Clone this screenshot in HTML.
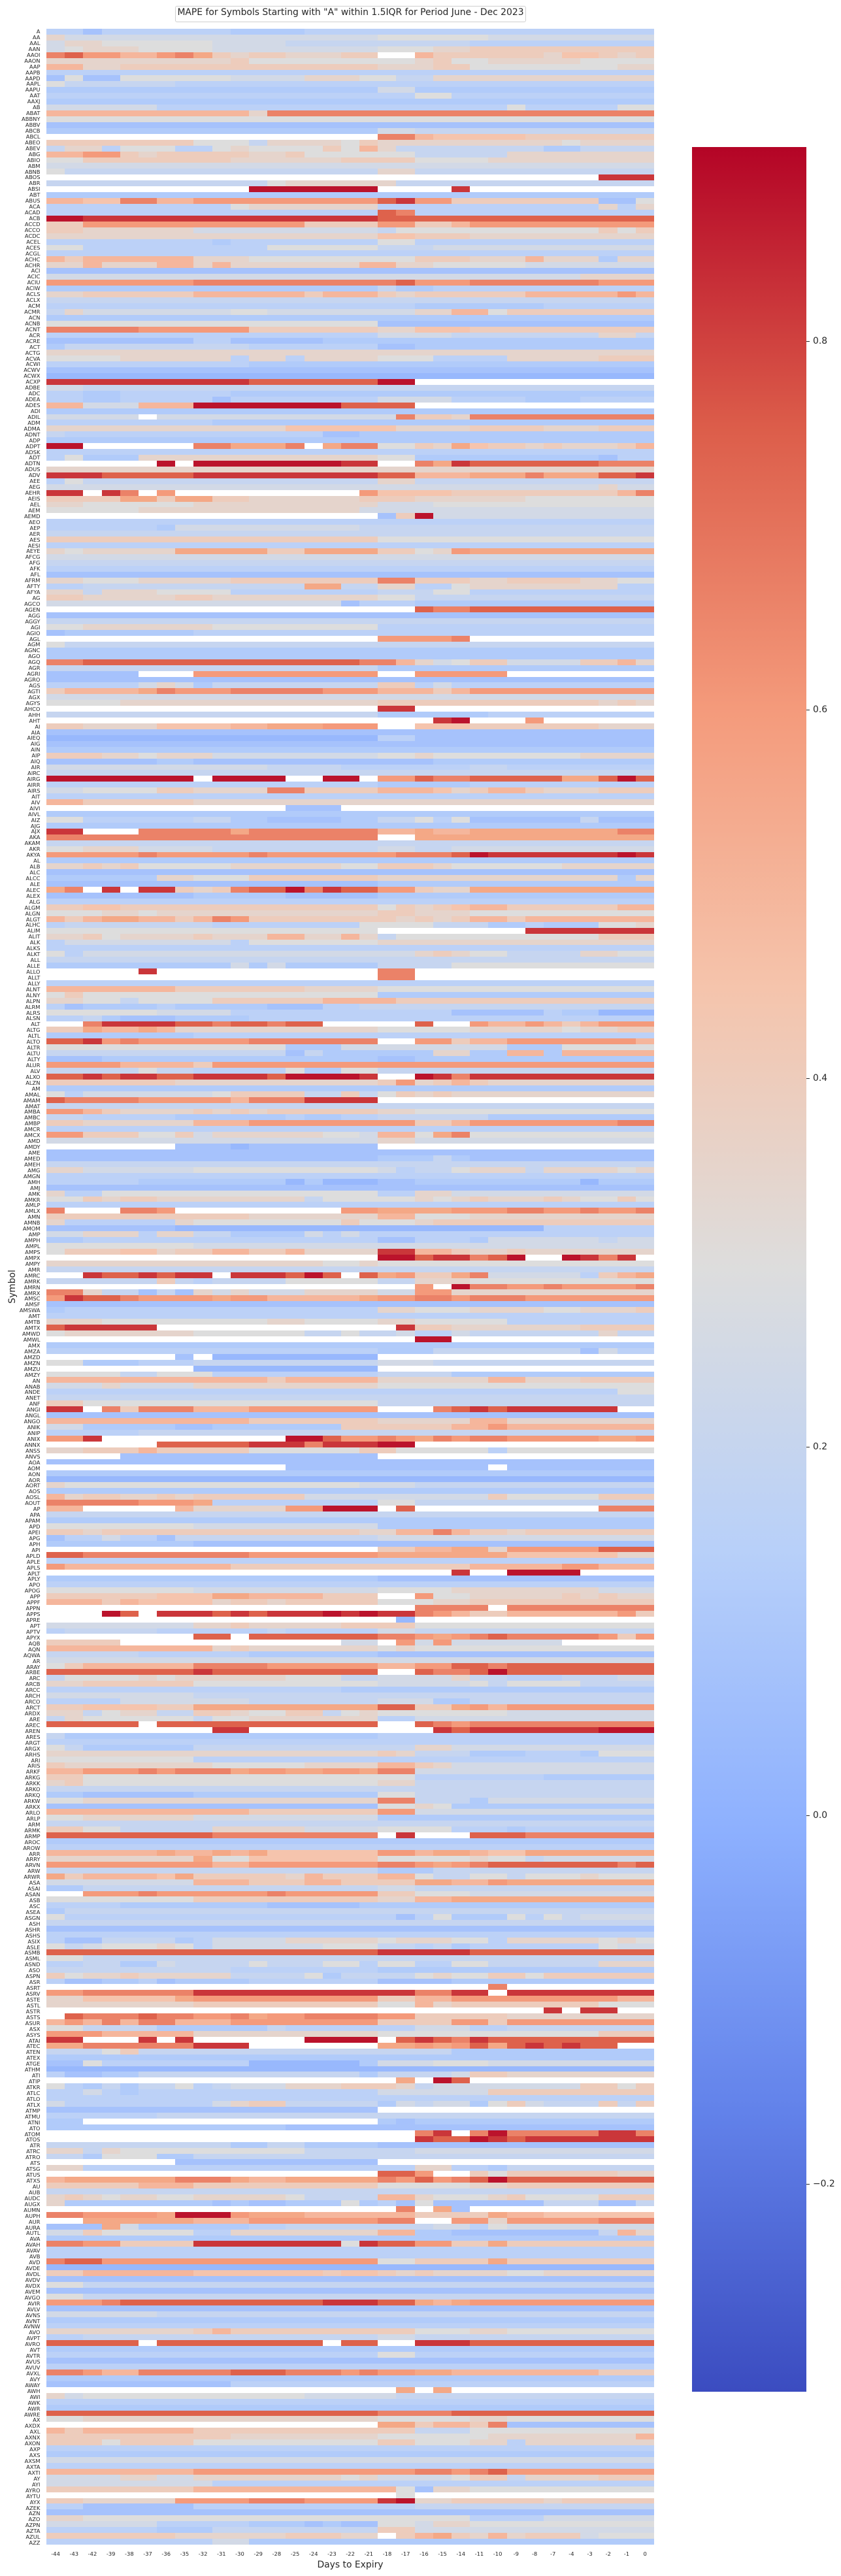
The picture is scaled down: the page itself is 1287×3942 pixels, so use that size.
<!DOCTYPE html>
<html><head><meta charset="utf-8">
<style>
html,body{margin:0;padding:0;background:#fff;}
body{width:1287px;height:3942px;position:relative;overflow:hidden;font-family:"DejaVu Sans","Liberation Sans",sans-serif;color:#262626;}
#title{position:absolute;left:268px;top:9px;width:537px;height:25px;box-sizing:border-box;border:1px solid #cfcfcf;border-radius:3px;background:#fff;text-align:center;font-size:13.9px;line-height:19px;white-space:nowrap;}
#hm{position:absolute;left:71px;top:44px;width:930px;height:3850px;background:#cdd6ea;}
#hm svg{display:block;}
#yl{position:absolute;left:0;top:44px;width:61.5px;text-align:right;font-size:8.33px;line-height:8.9327px;white-space:pre;}
#xl{position:absolute;left:71px;top:3903px;width:930px;height:10px;display:flex;font-size:8.33px;line-height:10px;}
#xl span{flex:1;text-align:center;white-space:nowrap;}
#xt{position:absolute;left:71px;top:3916px;width:930px;text-align:center;font-size:13.9px;line-height:18px;}
#yt{position:absolute;left:19px;top:1969px;transform:translate(-50%,-50%) rotate(-90deg);font-size:13.9px;line-height:16px;white-space:nowrap;}
#cb{position:absolute;left:1059px;top:225px;width:175px;height:3435px;background:linear-gradient(to top,#3b4cc0 0%,#6282ea 12.5%,#8db0fe 25%,#b8d0f9 37.5%,#dddddd 50%,#f5c4ac 62.5%,#f49a7b 75%,#dc5d4a 87.5%,#b40426 100%);}
.tk{position:absolute;left:1234px;width:5px;height:1px;background:#262626;}
.tl{position:absolute;left:1244px;font-size:13.9px;line-height:16px;white-space:nowrap;}
</style></head><body>
<div id="title">MAPE for Symbols Starting with "A" within 1.5IQR for Period June - Dec 2023</div>
<div id="hm"></div>
<div id="yl">A
AA
AAL
AAN
AAOI
AAON
AAP
AAPB
AAPD
AAPL
AAPU
AAT
AAXJ
AB
ABAT
ABBNY
ABBV
ABCB
ABCL
ABEO
ABEV
ABG
ABIO
ABM
ABNB
ABOS
ABR
ABSI
ABT
ABUS
ACA
ACAD
ACB
ACCD
ACCO
ACDC
ACEL
ACES
ACGL
ACHC
ACHR
ACI
ACIC
ACIU
ACIW
ACLS
ACLX
ACM
ACMR
ACN
ACNB
ACNT
ACR
ACRE
ACT
ACTG
ACVA
ACWI
ACWV
ACWX
ACXP
ADBE
ADC
ADEA
ADES
ADI
ADIL
ADM
ADMA
ADNT
ADP
ADPT
ADSK
ADT
ADTN
ADUS
ADV
AEE
AEG
AEHR
AEIS
AEL
AEM
AEMD
AEO
AEP
AER
AES
AESI
AEYE
AFCG
AFG
AFK
AFL
AFRM
AFTY
AFYA
AG
AGCO
AGEN
AGG
AGGY
AGI
AGIO
AGL
AGM
AGNC
AGO
AGQ
AGR
AGRI
AGRO
AGS
AGTI
AGX
AGYS
AHCO
AHH
AHT
AI
AIA
AIEQ
AIG
AIN
AIP
AIQ
AIR
AIRC
AIRG
AIRR
AIRS
AIT
AIV
AIVI
AIVL
AIZ
AJG
AJX
AKA
AKAM
AKR
AKYA
AL
ALB
ALC
ALCC
ALE
ALEC
ALEX
ALG
ALGM
ALGN
ALGT
ALHC
ALIM
ALIT
ALK
ALKS
ALKT
ALL
ALLE
ALLO
ALLT
ALLY
ALNT
ALNY
ALPN
ALRM
ALRS
ALSN
ALT
ALTG
ALTL
ALTO
ALTR
ALTU
ALTY
ALUR
ALV
ALXO
ALZN
AM
AMAL
AMAM
AMAT
AMBA
AMBC
AMBP
AMCR
AMCX
AMD
AMDY
AME
AMED
AMEH
AMG
AMGN
AMH
AMJ
AMK
AMKR
AMLP
AMLX
AMN
AMNB
AMOM
AMP
AMPH
AMPL
AMPS
AMPX
AMPY
AMR
AMRC
AMRK
AMRN
AMRX
AMSC
AMSF
AMSWA
AMT
AMTB
AMTX
AMWD
AMWL
AMX
AMZA
AMZD
AMZN
AMZU
AMZY
AN
ANAB
ANDE
ANET
ANF
ANGI
ANGL
ANGO
ANIK
ANIP
ANIX
ANNX
ANSS
ANVS
AOA
AOM
AON
AOR
AORT
AOS
AOSL
AOUT
AP
APA
APAM
APD
APEI
APG
APH
API
APLD
APLE
APLS
APLT
APLY
APO
APOG
APP
APPF
APPN
APPS
APRE
APT
APTV
APYX
AQB
AQN
AQWA
AR
ARAY
ARBE
ARC
ARCB
ARCC
ARCH
ARCO
ARCT
ARDX
ARE
AREC
AREN
ARES
ARGT
ARGX
ARHS
ARI
ARIS
ARKF
ARKG
ARKK
ARKO
ARKQ
ARKW
ARKX
ARLO
ARLP
ARM
ARMK
ARMP
AROC
AROW
ARR
ARRY
ARVN
ARW
ARWR
ASA
ASAI
ASAN
ASB
ASC
ASEA
ASGN
ASH
ASHR
ASHS
ASIX
ASLE
ASMB
ASML
ASND
ASO
ASPN
ASR
ASRT
ASRV
ASTE
ASTL
ASTR
ASTS
ASUR
ASX
ASYS
ATAI
ATEC
ATEN
ATEX
ATGE
ATHM
ATI
ATIP
ATKR
ATLC
ATLO
ATLX
ATMP
ATMU
ATNI
ATO
ATOM
ATOS
ATR
ATRC
ATRO
ATS
ATSG
ATUS
ATXS
AU
AUB
AUDC
AUGX
AUMN
AUPH
AUR
AURA
AUTL
AVA
AVAH
AVAV
AVB
AVD
AVDE
AVDL
AVDV
AVDX
AVEM
AVGO
AVIR
AVLV
AVNS
AVNT
AVNW
AVO
AVPT
AVRO
AVT
AVTR
AVUS
AVUV
AVXL
AVY
AWAY
AWH
AWI
AWK
AWR
AWRE
AX
AXDX
AXL
AXNX
AXON
AXP
AXS
AXSM
AXTA
AXTI
AY
AYI
AYRO
AYTU
AYX
AZEK
AZN
AZO
AZPN
AZTA
AZUL
AZZ</div>
<div id="xl"><span>-44</span><span>-43</span><span>-42</span><span>-39</span><span>-38</span><span>-37</span><span>-36</span><span>-35</span><span>-32</span><span>-31</span><span>-30</span><span>-29</span><span>-28</span><span>-25</span><span>-24</span><span>-23</span><span>-22</span><span>-21</span><span>-18</span><span>-17</span><span>-16</span><span>-15</span><span>-14</span><span>-11</span><span>-10</span><span>-9</span><span>-8</span><span>-7</span><span>-4</span><span>-3</span><span>-2</span><span>-1</span><span>0</span></div>
<div id="xt">Days to Expiry</div>
<div id="yt">Symbol</div>
<div id="cb"></div>
<div class="tk" style="top:522px"></div><div class="tl" style="top:514px">0.8</div>
<div class="tk" style="top:1086px"></div><div class="tl" style="top:1078px">0.6</div>
<div class="tk" style="top:1650px"></div><div class="tl" style="top:1642px">0.4</div>
<div class="tk" style="top:2214px"></div><div class="tl" style="top:2206px">0.2</div>
<div class="tk" style="top:2778px"></div><div class="tl" style="top:2770px">0.0</div>
<div class="tk" style="top:3342px"></div><div class="tl" style="top:3334px">−0.2</div>
<script>
(function(){
var C={a:'#81a3f8',b:'#98b8fd',c:'#a6c2fc',d:'#b1cbfa',e:'#bcd1f7',f:'#c6d5f0',g:'#d2d9e6',h:'#dddddd',i:'#e5d4cc',j:'#edccbc',k:'#f5c4ad',l:'#f5b69c',m:'#f4a886',n:'#f49a7b',o:'#eb8268',p:'#de624c',q:'#ca363a',r:'#bb132c'};
var S=`
e2c1e7d4e19 i1g17h6g9 g1i2h6g4f10e10 g1h1i3h4g9h3i2j10 o1p1n2l2n1o1m1j1i1j2i3j2_2l1j2j4i1k2j1i1j1 i10j1h9i1j1h2i5h4 l2i2j14i3j2h8i2 e c1h1c2h6g4i3h2f2i12 h1f6e26
d18g2d13 e20h2e11 d g6e19h1e5h2 l11i1o21 h c d18g2f13 _18o2l1k5j7 j8h3f1i4h1j1i10h1i4
f1i2e1h3e2h1i1h4j1h1l1i1f8d2f4 l2n2j1i1j5i2j1h6f5i8 h2j8i6j4h4i9 g h1f17i2f13 _30q3 f12h1i6f14 _11r7_4q1_10 d l2k2o2l2n10p1q1n2j8c2h1
e10h1i7e12i1e1i1 e18p1o1e13 r2q16p15 j2n12j4n2j2l1n10 j2i6g10f1h11j1h1j1 i18k2j3i10 e9d1e8h2e13 h2e10h6f3g12 e l1j1l6i3h9j3i3l1i3d1i2
i2l1i3l2i1l1i7l2i2h5g7 c g29i4 n8o10o1p1n3o7n3 d18f1d2e12 i2j6l6j1l3j1i1j6l5n1l1 f e20d7e6 f1i1g8h2g8i2l2h1j8 d
h18c15 o5n6j7i2k3j10 e18g4f8i2f1 c8e2c5d18 d1f10e7c2d13 i h4i6e1i2e1i4h3e4i5j3 e11d22 c b
q11p7r2_13 g2f31 e2d2e6d23 e2d2e5c1e8g4e4d3e4 l2g3l3r8p4_13 d g5_1g13o1j2i1o10 e9d24 i13k6i4j4i3j3 f1e14c2d16
d r2_6o2m3o1_1m1o2h2j1i1m1k1j2i1j1i3j1l1 e e1h1d3i13h2d10c1e2 _6r1_1r8q2_2o1m1q1p7o3 i q3p5q10p2l3m3o1m3p2q1 e1h1f16i2f13 g30i1g2 q2_1q1o1_1n1_10n1k4j1j8l1o1
j4m2j1m2j2i6j3i6h7 i2h6i10g3h12 h5i12g16 _18c1j1r1g12 e e6d1g10f16 f j18h15 e i1h1i5m5j2m4j2h1i1n1m10
g f e c i2h3i5j8o2j3i2j4i2h2 e2f12m2f2i2e2h1i8e2 i2f1i3h4e8f3h2e10 j2i5j2i9h2f13 g16c1e3d13 _20p1o2p10
c f h2i7h9e15 c1d7e25 _18n4o1_10 h1f32 d d o2p15o2l1i1g1h1j2g4j2l1i1 f18d15
c5_3n10_2n5_8 c e5g1i1g1d1f9j2e1g1e11 j1l4m1o1n3o5n1n2l2l1j1l1n10 g h4i14j12i1j1i1 _18q2_13 f18d6e9 _21q1r1_3n1_6 j2i4k4l2m3n3_2k3j7i3
c b18e2c13 c d j3i2h1i3g9h2i1h8i4 c6d2c13d12 g12f4e7f2e8 f r8_1r4_2r2_1n2p1o2p5m2p1r1p1 e18d5e10
g2h4j2i4o2j4l3k1i1j1l2j1i3j3 e l2j6i25 _13c3_17 d h2e6f2d2c4d2f2h1e1h1c6f1c3 d q2_3o5m1o7l2m1l2m8o2 o18_2m13 f
h2i3g4f9g2f2g11 n5o1n5o1n7o1o2p1r1q7r1q1 d i2j1i1j1h5i6h2j3i1h6i5 c d6i2h3j7i13d1i1 c18d15 m1o1_1q1_1q2j1i1j1o1p2r1o1q1p2n2j1i2m10 c8d5c5d15 e
j2k2j14h1j1i1j1k1l2j6l2 h3i2h1i12j2i3h10 l1j1l1m2l2j1l1o1n1j7j1i1j1i1j1l2j1l7 e1f8e8h4f3d2e1d3h2i1 h18_8q7 i2j1h1i4j1i3l2i2l1i1f1h11j3 e1g9e1h7i15 e h1e1g18i1j1i1h2f4i2h2 f
d10g1d1g1d5f4h11 _5q1_12o2_13 _18o2_13 e l7j7i4h15 h1j1h16d15 i2h2f1h4j6l4j14 e1c1d4e1d5c3e2f16 h6g4e12c5e1d2b3 e2f1d1c3d4e22
_2o1q4p2o1p2o1p2_5p1_2n1l2n1l1j1l1n3 j2m1l2m1l1i11h5i5h1i2j2 d8e25 p2q1n1o1n6o7_2n2j1l2n7l1 h13d3g9d3h5 f13c1f1d6i2d2l2d1l5 c3d15c2d13 n4l4j1n24 f5h1f2e5h1d2h2f15 p2q1p1q2p2q4p1r4q1_2r1q1o1q10
j7i11j1n1i1j1l1j1i9 d h1e1g7h1j4f2j1f1h1j1i1j1i11 p1o4n5l1o3q4_15 f n2l1j1i4j1i1j1i1j6i2h13 f2e5d6e1d2e2f6d9 j2i6l3n7n2j2l1n8o2 e n2j3h2j1g1i6h2g1l2h1m1o1h10
g18i2g13 _7c3b1c7_15 c c18d3f1d1c10 f i2g6h10g1e1f2h1i3f1i4h1i1 e e5d8b1d1b3c2d9b1d3 c i1e2h15e2i2g11
h2j1i1j2i8f1h5i1h1i1j1i3j1i1h2j1h1 e o1_3o2n1_9n2m4n2n1o2n2o1n2o1 j11i7l2h3i10 i1e6i1h8j1h3i1j12 c7b20e6 g2i3e1i2f2d4g1e1g1e16 d2e16c2e3d1g6f1g2 h8g25 h1j3k2i1j2l2j2l1i4q2l2j1i2j1i7
_18r2p1q2o1p1r1_2r1q1o1q1_1 i15h2i1h15 f _2q1p2q1p1q2_1q3p1r1p1_1p1m1n1j2m1o1g5e1j1l1m1 f6j1f1e1f4h5f2i3h10 _20n1_1r1o2n2o1n4o1 o2i1f2c1f1c1i1g1i1g3i4g2n2i11 n1q1p2o1n4m1n2l5m1n2o2n1o3n7 c d1e17i2h3i4h2i3j1
e i3h9i2h4i2h5e8 p1q5_13q1j2i7j4 h1i7h6f2h1f2g1e2g1f7i1f2 _20r2_11 d e18d3f8c1g1e2 _7c1_1b9_15 h2d3e3f10g3f12 _8b10_15
h4f2h3e9f4d11 l12j1l5i6l2i3j4 g3i1g4i10h15 e31h2 f j2h16f15 q2_1o1j1o3l3n7_3o1p1q1p1q6_2 c l11j7i5l2i8 g2d5c2d7j2j2j2l2n1l8
e5f28 n2q1_10r2p1n2o1n1m1o1n1o2n5m2n1 _6p5q3o1q3r2_13 i2j3l1j5h6j2h5e1h8 _4c14_15 c _13c11_1c8 d b i1h16g3f13
d l1i1j2i2j1i1j6g10j1h5j3 o5n3m1e9h2f13 l2_5l1i5n2r3_1p1_10o3 f d h8g10d15 j2i1j14i2l2o1l1j2i1j7 c1e2g1e2c1f11g15 d8c25
_18j2l2m2i1n5p3 p2o9n7m7k6i2 e n1l9j13l5n2l3 _22q1_2r4_4 d18c15 e h8g10h4i8g3 j6k3m2l4j3_2n1h2i5j1i1j1i2 l3j1l1k4i1j2i1j5h3i2j10
_20o4_1o8 _3r1p1_1q3p1q1p1q3r1q1r1q2o1n1l1j2l6n1j1 _19b1_13 g8i2j1i5j4h13 e1f5e6f1e5g2f13 _8p2_1p7o2n1m1n1o1p1o5n1j1n1 j4_12g2_1n1g1n1g6_5 l9i1j1i7h1i1h13 f5e6d7c15 g
h1j1l6o4n6l2n2p2o1p8 p8q1p9_2p1o2p1r1p8 f1h4i1h1i6h3f2g4i1f2e3f3g2 i2j6h10g5h1f1h4f4 e16d17 g8f25 e4g7f7g3d2f10 j2k4j2m10p2j2m1n1l1n8 i2f1h1i2f2j2i1h2j2f1h1i1h7g8 f1i1h6f1h2i7e2g13
p5_1p12_2p1o1n1o10 _9q2_10q1p1q1q1q5r3 f1d17e15 e h1f1d6f12i2g11 i18j1i1f3d3e3d1h3 h8e25 j1i8h5i4l2j1i1g11 l2n3o1n1o3m1n2m2n2m1o2g13 j2h18e7d6
i1j1h16i2f13 f d2c6d10h2f13 h2i16o2f3d1g9 c18h2i1h1d11 l11j7n2g13 h2i6g10d15 f j2h2f5i5g4h4e3d1e7 p9o7o2_1q1_3p3o7
d e l6m1l2m1l1m1k6n2l1m2l1k2m7 i8m1h2k7h5i1h2f1g6 n9l2n7o2n1m1n1o1p7o1p1 f18d3f12 m1j1l4k1m1j5i1l1j3l2h1f2h2f1h3i1h3 g8l3j3l2j4m2l2n1m8 d2f16g2f13 _2n3o1n6o1n5j2h3g10
h8j10i2l2m11 e4d8c5d16 d1f32 h1e18c1e1h1d3h1e1h1f1g4 f c e e1c2f4d1e1g4i5h1i3h2e1i5h1i1h1 h1f1g1h3i1h1e1g6h3f2e1f1d1e7h1g2e1 p18q5p10
h2f31 e2f2d2g1f4h1f3h2e1h2e2h2f6i3 f10e8d15 j1h1i2j1i5f4h1d1f4h1i1h2j2h1j6 e1c2d2e1c1d4e7c4d11 _24o1_8 n2o6q12o2q2_1q8 i2k5m1n10j2l2n9l2 i8j10h2l1i1j8h3 _27q1_1q2_2
_1p1o3p1o2n2o1m1n2o4n2j5i8 l1n1l1o1l1o2l3n8j4n2j1n8 h2f4d6f1e7g3e2f8 n3l5i10h12j3 q2_3q1_1q1_6r4_1p1q1p1o1q1p1p8 m2o6q3_7m2n1m1n1p1m1p1q1p1q1p2_2 f3h1j1f17d11 d c2h1e8b6d1g3h3g9 b
e1c2d2f12d1f4g1j2i8 _19m1_1r1p1_10 h1e1d1f1d1f2h1e1f1g3i3j3i1f1g8j2h1j1 e2g1e1d1e13g6j9 e g1e8g1i1j2f5d1g1f1g2d1h1j1g1f3j1f1j1 c18_15 e6f27 d2_16d1c1d13 d13c20
_20o1q1_1o1r1o5q2o1 _20q1p1p1r1q1p1q7 f10d2f2d4c15 i2f1i1h10f6g13 f2d1h3d2f25 _7c11_15 i2e18i2e2d1f8 _18p2n1_2j1h1j5j1i2 l1m6o3m1l2m5o1n1p1n1o1p1r1p8 j5l3j10h5i2j8
f i1j1i1h1i2h2i5h1f4l2i1h3i1j1h4j3 i1d8c1d1c2d3h1d1e1c1h1c6f3c2f1 _19o1_1m1c1_10 o2n4m1r3n1m3l6j4m1l2k6 _2m6l3n7o2_2n2i1n5o3 c3m1g1d6e2f8g2e1h1g8 g2j1h5e2i8l2d2c8f1l1i1 d o2n2j4q8h1q1p2n2j2m1j8
e e o1p2n15h2j4m1j8 b j2l6k7j1k2j1i1j1i4h2i6 c h2f31 c h2f31 n3o1p11q3p2m1l1m1n10
c g6f27 d e i8j1l1j10h3i2h8 e2f16g2f13 p5_1p9_1p2_2q3p10 d e18h2e13 c
e o2n1l2o5p3o3n1o1n2m2l8j3 d c10e23 _19m1_1m1_11 i1g1h12g5f14 e d p18o4p11 h2i16h5i2h8
_18m2j1l2j1o1c8 l1j1l6j12f3h10 j10i8h6i8l1 j3h1j4h10j2h3i2e1i7 e d g e l8n12o2n1o1p1n8 g4i2g2i8h1i1g4h1j2f1i4j3
g9e24 j8l11h1c1i2h10 _19h1_13 j2i5n4o3n4q1r1i2j5i1j5 e2c6e12f13 c i2h21e4g6 g6e5d3c1d1c2h2g1i2h10 e6d3f9j2g13 j7i6j3i2_1j1l1m1j1i1l1i1j3g1h3 e9g2d22
`;
var D=S.trim().split(/\s+/);
var N=33,W=930,H=3850,cw=W/N,rh=H/D.length;
var s='<svg xmlns="http://www.w3.org/2000/svg" width="930" height="3850" shape-rendering="crispEdges">';
for(var r=0;r<D.length;r++){
  var y0=Math.round(r*rh),y1=Math.round((r+1)*rh);
  var re=/([a-r_])(\d*)/g,m,c=0,last='h';
  while((m=re.exec(D[r]))&&c<N){
    var n=m[2]?parseInt(m[2],10):N-c; if(c+n>N)n=N-c;
    last=m[1];
    if(m[1]!=='_'){var x0=Math.round(c*cw),x1=Math.round((c+n)*cw);
      s+='<rect x="'+x0+'" y="'+y0+'" width="'+(x1-x0)+'" height="'+(y1-y0)+'" fill="'+C[m[1]]+'"/>';}
    c+=n;
  }
  if(c<N&&last!=='_'){var x0b=Math.round(c*cw);
    s+='<rect x="'+x0b+'" y="'+y0+'" width="'+(W-x0b)+'" height="'+(y1-y0)+'" fill="'+C[last]+'"/>';}
}
s+='</svg>';
var hm=document.getElementById('hm');hm.innerHTML=s;hm.style.background='#fff';
})();
</script>
</body></html>
